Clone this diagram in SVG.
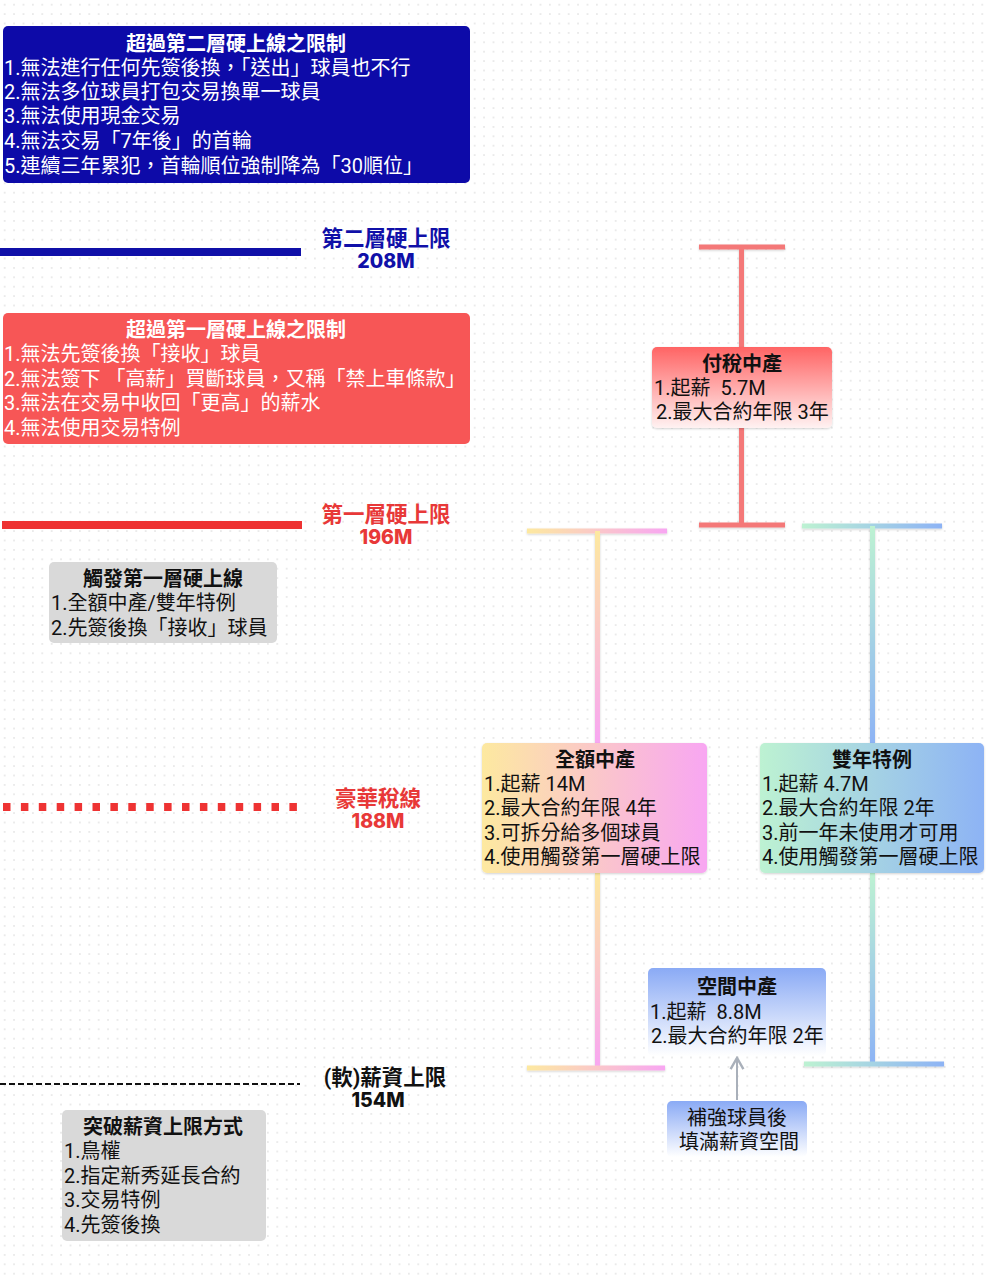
<svg xmlns="http://www.w3.org/2000/svg" width="989" height="1280" viewBox="0 0 989 1280">
<defs>
<pattern id="dots" x="0" y="0" width="9.4" height="9.4" patternUnits="userSpaceOnUse">
<circle cx="4.7" cy="4.7" r="0.9" fill="#e2e2e2"/>
</pattern>
<linearGradient id="gYP" x1="0" y1="0" x2="1" y2="0"><stop offset="0" stop-color="#fde9a0"/><stop offset="1" stop-color="#f8a6f2"/></linearGradient>
<linearGradient id="gYPv" x1="0" y1="0" x2="0" y2="1"><stop offset="0" stop-color="#fde9a0"/><stop offset="1" stop-color="#f8a6f2"/></linearGradient>
<linearGradient id="gGB" x1="0" y1="0" x2="1" y2="0"><stop offset="0" stop-color="#bdf2d2"/><stop offset="1" stop-color="#8db3f5"/></linearGradient>
<linearGradient id="gGBv" x1="0" y1="0" x2="0" y2="1"><stop offset="0" stop-color="#bdf2d2"/><stop offset="1" stop-color="#8db3f5"/></linearGradient>
<linearGradient id="gRed" x1="0" y1="0" x2="0" y2="1"><stop offset="0" stop-color="#ff6464"/><stop offset="1" stop-color="#fff2f2"/></linearGradient>
<linearGradient id="gBlue" x1="0" y1="0" x2="0" y2="1"><stop offset="0" stop-color="#8aaaf5"/><stop offset="1" stop-color="#ffffff"/></linearGradient>
<marker id="arr" viewBox="0 0 10 10" refX="8" refY="5" markerWidth="8" markerHeight="8" orient="auto">
<path d="M1,1 L8,5 L1,9" fill="none" stroke="#a9b0ba" stroke-width="1.5"/>
</marker>
<filter id="sh" x="-10%" y="-10%" width="120%" height="130%"><feDropShadow dx="0" dy="1" stdDeviation="1.2" flood-color="#000" flood-opacity="0.18"/></filter>
</defs>
<style>
text{font-family:Roboto,"Noto Sans CJK TC","Noto Sans CJK SC",sans-serif;font-size:20px;fill:#111}
.t{font-weight:bold;text-anchor:middle}
.w{fill:#fff}
.lab{font-size:21.5px;font-weight:bold;text-anchor:middle}
.num{font-family:Inter,"Noto Sans CJK TC",sans-serif;font-size:19.5px;font-weight:800;text-anchor:middle}
.blue{fill:#1010a8}
.red{fill:#e83838}
.mid{text-anchor:middle}
</style>
<rect width="989" height="1280" fill="#ffffff"/>
<rect width="989" height="1280" fill="url(#dots)"/>

<g id="connectors">
<line x1="0" y1="252" x2="301" y2="252" stroke="#1010a8" stroke-width="8"/>
<line x1="2" y1="525" x2="302" y2="525" stroke="#ee3333" stroke-width="8"/>
<line x1="3" y1="807" x2="297" y2="807" stroke="#ee3333" stroke-width="8" stroke-dasharray="7.5 10.4"/>
<line x1="0" y1="1084" x2="300" y2="1084" stroke="#111" stroke-width="2" stroke-dasharray="6 3"/>
<g filter="url(#sh)">
<rect x="699" y="244.5" width="86" height="5" fill="#f47878"/>
<rect x="739" y="247" width="5" height="278" fill="#f47878"/>
<rect x="699" y="522.5" width="86" height="5" fill="#f47878"/>
<rect x="527" y="528.5" width="140" height="5" fill="url(#gYP)"/>
<rect x="595" y="531" width="5" height="212" fill="url(#gYPv)"/>
<rect x="595" y="873" width="5" height="195" fill="url(#gYPv)"/>
<rect x="527" y="1065.5" width="138" height="5" fill="url(#gYP)"/>
<rect x="802" y="523.5" width="140" height="5" fill="url(#gGB)"/>
<rect x="870" y="526" width="5" height="217" fill="url(#gGBv)"/>
<rect x="870" y="873" width="5" height="191" fill="url(#gGBv)"/>
<rect x="804" y="1061.5" width="140" height="5" fill="url(#gGB)"/>
</g>
<line x1="737" y1="1100" x2="737" y2="1058" stroke="#a9b0ba" stroke-width="2" marker-end="url(#arr)"/>
</g>

<g id="tier2-limits">
<rect x="3" y="26" width="467" height="157" rx="5" fill="#0d0aa8"/>
<text class="t w" x="236" y="51">超過第二層硬上線之限制</text>
<text class="w" x="4" y="75">1.無法進行任何先簽後換，「送出」球員也不行</text>
<text class="w" x="4" y="99">2.無法多位球員打包交易換單一球員</text>
<text class="w" x="4" y="123">3.無法使用現金交易</text>
<text class="w" x="4" y="148">4.無法交易「7年後」的首輪</text>
<text class="w" x="4" y="173">5.連續三年累犯，首輪順位強制降為「30順位」</text>
</g>

<g id="label-208">
<text class="lab blue" x="386" y="246">第二層硬上限</text>
<text class="num blue" x="386" y="268">208M</text>
</g>

<g id="tier1-limits">
<rect x="3" y="313" width="467" height="131" rx="5" fill="#f75656"/>
<text class="t w" x="236" y="337">超過第一層硬上線之限制</text>
<text class="w" x="4" y="361">1.無法先簽後換「接收」球員</text>
<text class="w" x="4" y="386">2.無法簽下 「高薪」買斷球員，又稱「禁上車條款」</text>
<text class="w" x="4" y="410">3.無法在交易中收回「更高」的薪水</text>
<text class="w" x="4" y="435">4.無法使用交易特例</text>
</g>

<g id="label-196">
<text class="lab red" x="386" y="522">第一層硬上限</text>
<text class="num red" x="386" y="544">196M</text>
</g>

<g id="trigger">
<rect x="49" y="562" width="228" height="81" rx="5" fill="#d9d9d9"/>
<text class="t" x="163" y="586">觸發第一層硬上線</text>
<text x="51" y="610">1.全額中產/雙年特例</text>
<text x="51" y="635">2.先簽後換「接收」球員</text>
</g>

<g id="label-188">
<text class="lab red" x="378" y="806">豪華稅線</text>
<text class="num red" x="378" y="828">188M</text>
</g>

<g id="label-154">
<text class="lab" x="385" y="1085">(軟)薪資上限</text>
<text class="num" x="378" y="1107">154M</text>
</g>

<g id="break-cap">
<rect x="62" y="1110" width="204" height="131" rx="5" fill="#d9d9d9"/>
<text class="t" x="163" y="1134">突破薪資上限方式</text>
<text x="64" y="1158">1.鳥權</text>
<text x="64" y="1183">2.指定新秀延長合約</text>
<text x="64" y="1207">3.交易特例</text>
<text x="64" y="1232">4.先簽後換</text>
</g>

<g id="taxpayer-mle">
<rect x="652" y="347" width="180" height="81" rx="5" fill="url(#gRed)" filter="url(#sh)"/>
<text class="t" x="742" y="371">付稅中產</text>
<text x="654" y="395">1.起薪&#160; 5.7M</text>
<text x="656" y="419">2.最大合約年限 3年</text>
</g>

<g id="full-mle">
<rect x="482" y="743" width="225" height="130" rx="5" fill="url(#gYP)" filter="url(#sh)"/>
<text class="t" x="595" y="767">全額中產</text>
<text x="484" y="791">1.起薪 14M</text>
<text x="484" y="815">2.最大合約年限 4年</text>
<text x="484" y="840">3.可拆分給多個球員</text>
<text x="484" y="864">4.使用觸發第一層硬上限</text>
</g>

<g id="biannual">
<rect x="760" y="743" width="224" height="130" rx="5" fill="url(#gGB)" filter="url(#sh)"/>
<text class="t" x="872" y="767">雙年特例</text>
<text x="762" y="791">1.起薪 4.7M</text>
<text x="762" y="815">2.最大合約年限 2年</text>
<text x="762" y="840">3.前一年未使用才可用</text>
<text x="762" y="864">4.使用觸發第一層硬上限</text>
</g>

<g id="room-mle">
<rect x="648" y="968" width="178" height="88" rx="5" fill="url(#gBlue)"/>
<text class="t" x="737" y="994">空間中產</text>
<text x="650" y="1019">1.起薪&#160; 8.8M</text>
<text x="651" y="1043">2.最大合約年限 2年</text>
</g>

<g id="fill-room">
<rect x="667" y="1101" width="140" height="56" rx="5" fill="url(#gBlue)"/>
<text class="mid" x="737" y="1125">補強球員後</text>
<text class="mid" x="739" y="1149">填滿薪資空間</text>
</g>
</svg>
